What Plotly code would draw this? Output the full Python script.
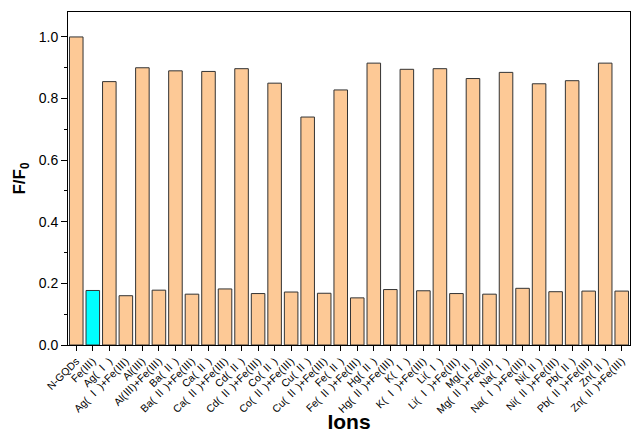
import plotly.graph_objects as go

categories = ["N-GQDs", "Fe(Ⅲ)", "Ag( Ⅰ )", "Ag( Ⅰ )+Fe(Ⅲ)", "Al(Ⅲ)", "Al(Ⅲ)+Fe(Ⅲ)",
              "Ba( Ⅱ )", "Ba( Ⅱ )+Fe(Ⅲ)", "Ca( Ⅱ )", "Ca( Ⅱ )+Fe(Ⅲ)", "Cd( Ⅱ )", "Cd( Ⅱ )+Fe(Ⅲ)",
              "Co( Ⅱ )", "Co( Ⅱ )+Fe(Ⅲ)", "Cu( Ⅱ )", "Cu( Ⅱ )+Fe(Ⅲ)", "Fe( Ⅱ )", "Fe( Ⅱ )+Fe(Ⅲ)",
              "Hg( Ⅱ )", "Hg( Ⅱ )+Fe(Ⅲ)", "K( Ⅰ )", "K( Ⅰ )+Fe(Ⅲ)", "Li( Ⅰ )", "Li( Ⅰ )+Fe(Ⅲ)",
              "Mg( Ⅱ )", "Mg( Ⅱ )+Fe(Ⅲ)", "Na( Ⅰ )", "Na( Ⅰ )+Fe(Ⅲ)", "Ni( Ⅱ )", "Ni( Ⅱ )+Fe(Ⅲ)",
              "Pb( Ⅱ )", "Pb( Ⅱ )+Fe(Ⅲ)", "Zn( Ⅱ )", "Zn( Ⅱ )+Fe(Ⅲ)"]
values = [1.0, 0.177, 0.855, 0.160, 0.900, 0.178,
          0.890, 0.165, 0.888, 0.182, 0.897, 0.167,
          0.850, 0.172, 0.740, 0.168, 0.828, 0.153,
          0.915, 0.180, 0.895, 0.176, 0.897, 0.167,
          0.865, 0.165, 0.885, 0.184, 0.848, 0.173,
          0.858, 0.175, 0.915, 0.175]
highlight = "Fe(Ⅲ)"

colors = ["#00FFFF" if c == highlight else "#FDC996" for c in categories]
x_idx = list(range(len(categories)))

fig = go.Figure(go.Bar(
    x=x_idx, y=values, width=0.82,
    marker=dict(color=colors, line=dict(color="#333333", width=1)),
))

fig.update_layout(
    width=633, height=433,
    margin=dict(l=68, r=3, t=12, b=88),
    plot_bgcolor="white", paper_bgcolor="white",
    showlegend=False,
    font=dict(family="Liberation Sans, Arial, Noto Sans CJK SC, sans-serif", color="black"),
    xaxis=dict(
        range=[-0.5, len(categories) - 0.5],
        tickmode="array", tickvals=x_idx, ticktext=categories,
        tickangle=-45, automargin=False,
        tickfont=dict(size=10.5, family="Liberation Sans, Noto Sans CJK SC, sans-serif"),
        ticks="outside", ticklen=5, tickcolor="black",
        showline=True, linecolor="black", linewidth=1, mirror=True,
        showgrid=False, zeroline=False,
        title=dict(text="<b>Ions</b>", font=dict(size=21), standoff=2),
    ),
    yaxis=dict(
        range=[0, 1.081], automargin=False,
        tickmode="linear", tick0=0, dtick=0.2, tickformat=".1f",
        tickfont=dict(size=14),
        ticks="outside", ticklen=6, tickcolor="black",
        minor=dict(dtick=0.1, ticks="outside", ticklen=3, tickcolor="black"),
        showline=True, linecolor="black", linewidth=1, mirror=True,
        showgrid=False, zeroline=False,
        title=dict(text="<b>F/F<sub>0</sub></b>", font=dict(size=17), standoff=8),
    ),
)

fig.write_html("out.html")
